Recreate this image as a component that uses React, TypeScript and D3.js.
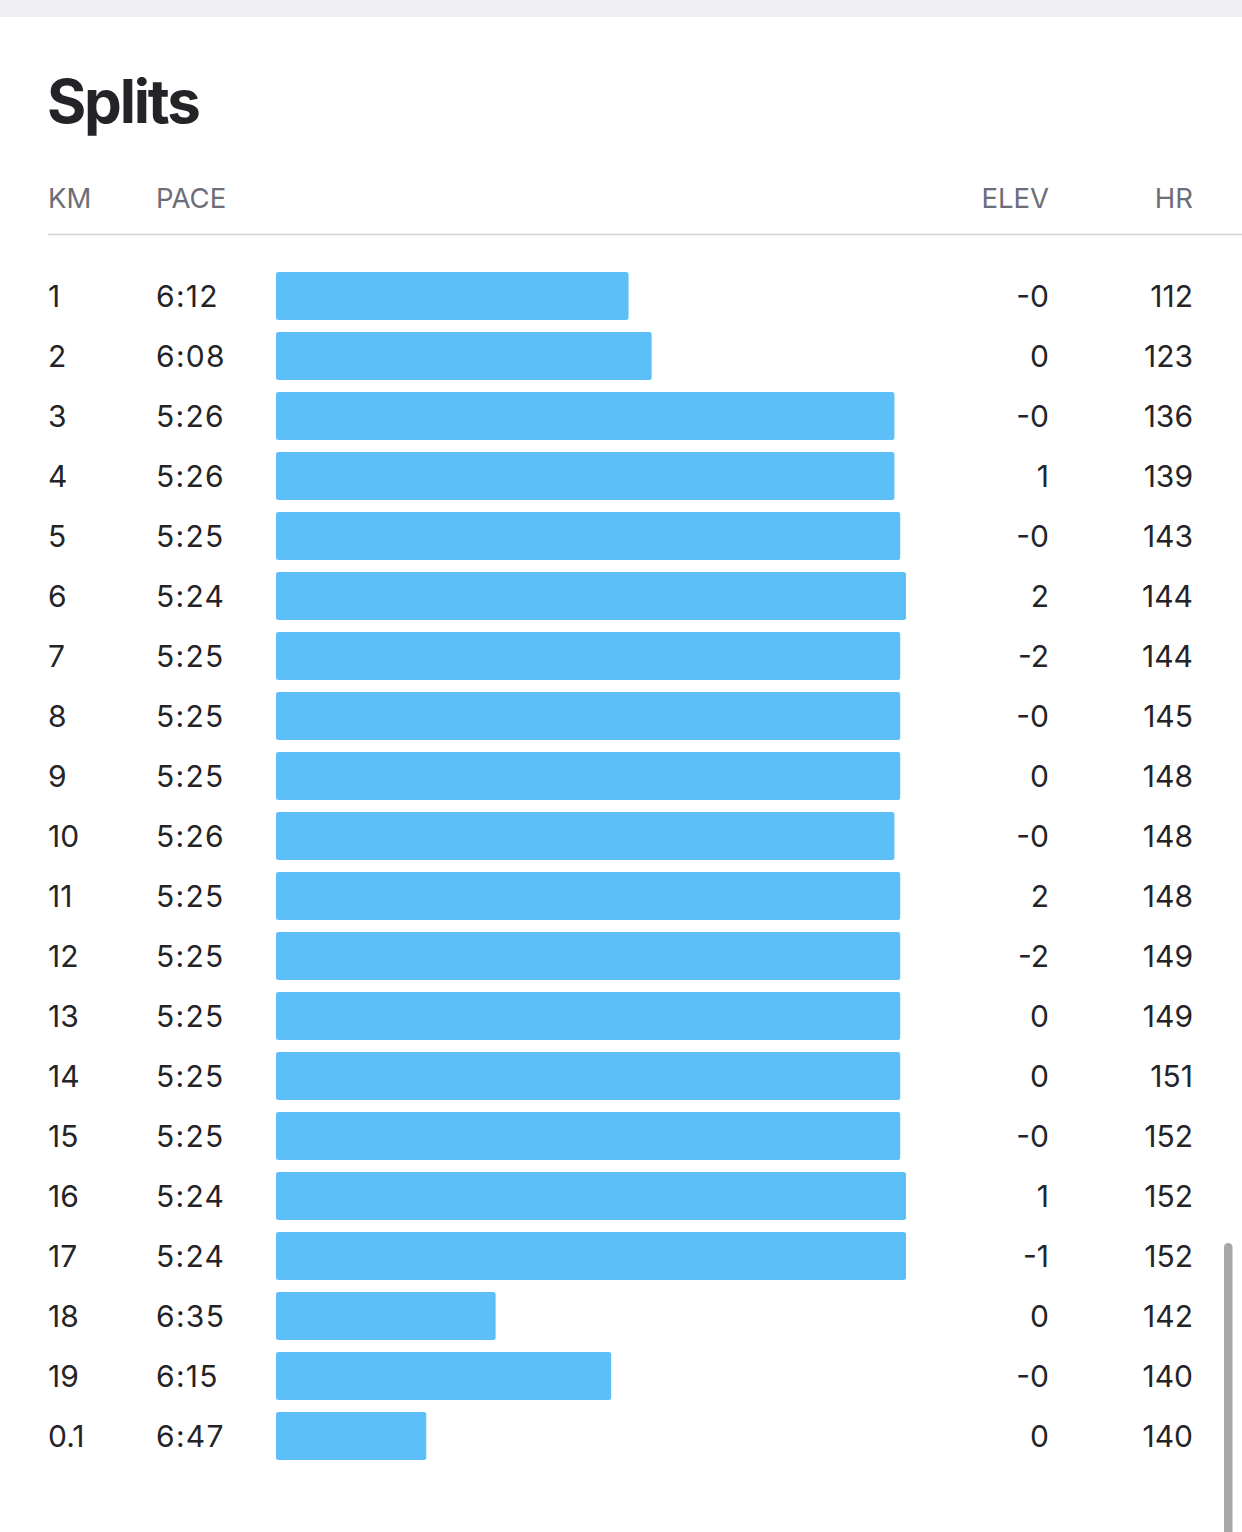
import React from "react";
import * as d3 from "d3";

const kmLabels = ["1","2","3","4","5","6","7","8","9","10","11","12","13","14","15","16","17","18","19","0.1"];
const paceLabels = ["6:12","6:08","5:26","5:26","5:25","5:24","5:25","5:25","5:25","5:26","5:25","5:25","5:25","5:25","5:25","5:24","5:24","6:35","6:15","6:47"];
const elevLabels = ["-0","0","-0","1","-0","2","-2","-0","0","-0","2","-2","0","0","-0","1","-1","0","-0","0"];
const hrValues = [112,123,136,139,143,144,144,145,148,148,148,149,149,151,152,152,152,142,140,140];
const headers = ["KM","PACE","ELEV","HR"];

const W = 1242;
const H = 1532;
const FONT = "Inter, 'Noto Sans', sans-serif";

function paceSeconds(s: string) {
  const [m, sec] = s.split(":").map(Number);
  return m * 60 + sec;
}

export default function App() {
  const paces = paceLabels.map(paceSeconds);
  const x = d3.scaleLinear().domain([433, 324]).range([276, 906]);
  const y = d3.scaleBand<string>().domain(kmLabels.map((k, i) => i + "")).range([260, 1472]).padding(0.2);

  return (
    <svg width={W} height={H} style={{ position: "absolute", left: 0, top: 0, background: "#fff" }} fontFamily={FONT}>
      <rect x={0} y={0} width={W} height={17} fill="#efeff1" />
      <text x={47} y={123} fontSize={60} fontWeight={700} fill="#242428" letterSpacing={-2.2}>Splits</text>
      <g fontSize={27.5} fill="#6d6d78">
        <text x={48} y={208}>{headers[0]}</text>
        <text x={156} y={208}>{headers[1]}</text>
        <text x={1049} y={208} textAnchor="end">{headers[2]}</text>
        <text x={1193} y={208} textAnchor="end">{headers[3]}</text>
      </g>
      <line x1={48} x2={W} y1={234.5} y2={234.5} stroke="#d3d3d9" strokeWidth={1.5} />
      {kmLabels.map((k, i) => {
        const yb = y(i + "")!;
        const cy = yb + y.bandwidth() / 2;
        return (
          <g key={i}>
            <rect x={x.range()[0]} y={yb} width={x(paces[i]) - x.range()[0]} height={y.bandwidth()} rx={2.5} fill="#5cbff8" />
            <g fontSize={30} fill="#242428">
              <text x={48} y={cy + 11}>{k}</text>
              <text x={156} y={cy + 11} letterSpacing={1.3}>{paceLabels[i]}</text>
              <text x={1049} y={cy + 11} textAnchor="end">{elevLabels[i]}</text>
              <text x={1193} y={cy + 11} textAnchor="end">{hrValues[i]}</text>
            </g>
          </g>
        );
      })}
      <rect x={1224} y={1243} width={8.5} height={320} rx={4.25} fill="#a8a8a8" />
    </svg>
  );
}
